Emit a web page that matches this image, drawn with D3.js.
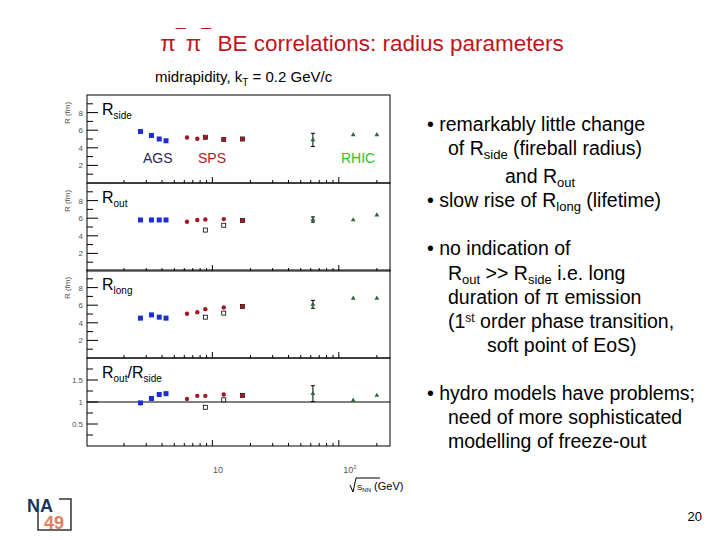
<!DOCTYPE html><html><head><meta charset="utf-8">
<script src="https://cdn.jsdelivr.net/npm/d3@7"></script>
<style>body{margin:0;background:#fff}svg{font-family:Arial,"Liberation Sans",sans-serif}</style></head><body>
<script>
const panels=["side","out","long","ratio"];
const agsE=[2.7,3.3,3.8,4.3], spsE=[6.3,7.6,8.8,12.3,17.3], spsOpenE=[8.8,12.3,17.3], rhicE=[62.4,130,200];
const agsV={side:[5.85,5.4,5.0,4.8],out:[5.8,5.8,5.8,5.8],long:[4.53,4.9,4.64,4.53],ratio:[0.98,1.08,1.17,1.19]};
const spsV={side:[5.17,5.02,5.17,5.0,5.0],out:[5.6,5.8,5.85,5.9,5.75],long:[5.02,5.2,5.55,5.74,5.85],ratio:[1.07,1.14,1.14,1.17,1.14]};
const spsOpenV={side:[5.2,4.95,5.0],out:[4.65,5.2,5.75],long:[4.64,5.1,5.85],ratio:[0.88,1.05,1.15]};
const rhicV={side:[4.9,5.47,5.47],out:[5.85,5.8,6.35],long:[6.1,6.79,6.79],ratio:[1.19,1.04,1.15]};
const rhicErr={side:[0.75,0,0],out:[0.3,0,0],long:[0.45,0,0],ratio:[0.18,0,0]};
const yDomains={side:[0,10],out:[0,10],long:[0,10],ratio:[0,2]};
const yTicks={side:[2,4,6,8],out:[2,4,6,8],long:[2,4,6,8],ratio:[0.5,1,1.5]};
const yMinor={side:[1,3,5,7,9],out:[1,3,5,7,9],long:[1,3,5,7,9],ratio:[0.25,0.75,1.25,1.75]};

const svg=d3.select("body").append("svg").attr("width",720).attr("height",540);
const title=svg.append("text").attr("x",362).attr("y",51).attr("text-anchor","middle").attr("font-size",22.5).attr("fill","#c0141c");
title.append("tspan").text("π");title.append("tspan").attr("dy",-9).attr("font-size",18).text("¯");
title.append("tspan").attr("dy",9).text("π");title.append("tspan").attr("dy",-9).attr("font-size",18).text("¯");
title.append("tspan").attr("dy",9).text(" BE correlations: radius parameters");
const st=svg.append("text").attr("x",155).attr("y",82).attr("font-size",15);
st.append("tspan").text("midrapidity, k");st.append("tspan").attr("dy",4).attr("font-size",10).text("T");
st.append("tspan").attr("dy",-4).text(" = 0.2 GeV/c");

const x=d3.scaleLog().domain([1.02,254]).range([87,390]);
const tops=[95,183,270,358], H=88;
const g=svg.append("g");
panels.forEach((p,i)=>{
  const y=d3.scaleLinear().domain(yDomains[p]).range([tops[i]+H,tops[i]]);
  g.append("rect").attr("x",87).attr("y",tops[i]).attr("width",303).attr("height",H).attr("fill","none").attr("stroke","#000").attr("stroke-width",1);
  yTicks[p].forEach(t=>{g.append("line").attr("x1",87).attr("x2",98).attr("y1",y(t)).attr("y2",y(t)).attr("stroke","#000");
    g.append("text").attr("x",83).attr("y",y(t)+3).attr("text-anchor","end").attr("font-size",8).attr("fill","#555").text(t);});
  yMinor[p].forEach(t=>g.append("line").attr("x1",87).attr("x2",93).attr("y1",y(t)).attr("y2",y(t)).attr("stroke","#000"));
  const xt=[2,3,4,5,6,7,8,9,10,20,30,40,50,60,70,80,90,100,200];
  xt.forEach(t=>g.append("line").attr("x1",x(t)).attr("x2",x(t)).attr("y1",tops[i]+H).attr("y2",tops[i]+H-((t==10||t==100)?6:3)).attr("stroke","#000"));
  if(p!="ratio") g.append("text").attr("transform",`translate(70,${tops[i]+18}) rotate(-90)`).attr("text-anchor","middle").attr("font-size",8).attr("fill","#555").text("R (fm)");
  else g.append("line").attr("x1",87).attr("x2",390).attr("y1",y(1)).attr("y2",y(1)).attr("stroke","#000");
  const lab=g.append("text").attr("x",102).attr("y",tops[i]+20).attr("font-size",16);
  if(p=="ratio"){lab.append("tspan").text("R");lab.append("tspan").attr("dy",4).attr("font-size",10).text("out");lab.append("tspan").attr("dy",-4).text("/R");lab.append("tspan").attr("dy",4).attr("font-size",10).text("side");}
  else{lab.append("tspan").text("R");lab.append("tspan").attr("dy",4).attr("font-size",10).text(p);}
  agsE.forEach((e,k)=>g.append("rect").attr("x",x(e)-2.5).attr("y",y(agsV[p][k])-2.5).attr("width",5).attr("height",5).attr("fill","#1a2fd0"));
  spsOpenE.forEach((e,k)=>g.append("rect").attr("x",x(e)-2).attr("y",y(spsOpenV[p][k])-2).attr("width",4).attr("height",4).attr("fill","#fff").attr("stroke","#000").attr("stroke-width",0.8));
  spsE.forEach((e,k)=>g.append("circle").attr("cx",x(e)).attr("cy",y(spsV[p][k])).attr("r",2.2).attr("fill","#a01820"));
  rhicE.forEach((e,k)=>{const v=rhicV[p][k],er=rhicErr[p][k];
    if(er>0){g.append("line").attr("x1",x(e)).attr("x2",x(e)).attr("y1",y(v-er)).attr("y2",y(v+er)).attr("stroke","#000");
      [v-er,v+er].forEach(q=>g.append("line").attr("x1",x(e)-2).attr("x2",x(e)+2).attr("y1",y(q)).attr("y2",y(q)).attr("stroke","#000"));}
    g.append("path").attr("d",d3.symbol(d3.symbolTriangle,10)()).attr("transform",`translate(${x(e)},${y(v)})`).attr("fill","#2a6a3a");});
});
g.append("text").attr("x",143).attr("y",163).attr("font-size",14).attr("fill","#2a2a5a").text("AGS");
g.append("text").attr("x",198).attr("y",163).attr("font-size",14).attr("fill","#b01820").text("SPS");
g.append("text").attr("x",341).attr("y",163).attr("font-size",14).attr("fill","#30c030").text("RHIC");
g.append("text").attr("x",218).attr("y",473).attr("text-anchor","middle").attr("font-size",9).attr("fill","#555").text("10");
const h2=g.append("text").attr("x",350).attr("y",473).attr("text-anchor","middle").attr("font-size",9).attr("fill","#555");h2.append("tspan").text("10");h2.append("tspan").attr("dy",-4).attr("font-size",6).text("2");
g.append("path").attr("d","M350,485 L353,492 L356,478 L380,478").attr("fill","none").attr("stroke","#000");
const xl=g.append("text").attr("x",357).attr("y",490).attr("font-size",11);
xl.append("tspan").attr("font-size",8).text("S");xl.append("tspan").attr("font-size",6).attr("dy",2).text("NN");xl.append("tspan").attr("dy",-2).text(" (GeV)");

const R=svg.append("g").attr("font-size",19.5);
function line(xx,yy,parts){const t=R.append("text").attr("x",xx).attr("y",yy);parts.forEach(([s,m])=>{const ts=t.append("tspan").text(s);if(m=="sub")ts.attr("font-size",13).attr("dy",4);if(m=="back")ts.attr("dy",-4);if(m=="sup")ts.attr("font-size",12).attr("dy",-6);if(m=="backsup")ts.attr("dy",6);});}
line(427,131,[["• remarkably little change"]]);
line(448,155,[["of R"],["side","sub"],[" (fireball radius)","back"]]);
line(505,183,[["and R"],["out","sub"]]);
line(427,207,[["• slow rise of R"],["long","sub"],[" (lifetime)","back"]]);
line(427,255,[["• no indication of"]]);
line(448,280,[["R"],["out","sub"],[" >> R","back"],["side","sub"],["  i.e. long","back"]]);
line(448,304,[["duration of π emission"]]);
line(448,328,[["(1"],["st","sup"],[" order phase transition,","backsup"]]);
line(487,352,[["soft point of EoS)"]]);
line(427,400,[["• hydro models have problems;"]]);
line(448,424,[["need of more sophisticated"]]);
line(448,448,[["modelling of freeze-out"]]);
svg.append("text").attr("x",702).attr("y",521).attr("text-anchor","end").attr("font-size",13).text("20");
const lg=svg.append("g");
lg.append("rect").attr("x",38).attr("y",499).attr("width",33).attr("height",31).attr("fill","none").attr("stroke","#333").attr("stroke-width",1.5);
lg.append("rect").attr("x",27).attr("y",494).attr("width",32).attr("height",18).attr("fill","#fff");
lg.append("text").attr("x",27).attr("y",512).attr("font-size",18).attr("font-weight","bold").attr("fill","#1c3560").text("NA");
lg.append("text").attr("x",44).attr("y",529).attr("font-size",18).attr("font-weight","bold").attr("fill","#e08060").text("49");
</script></body></html>
